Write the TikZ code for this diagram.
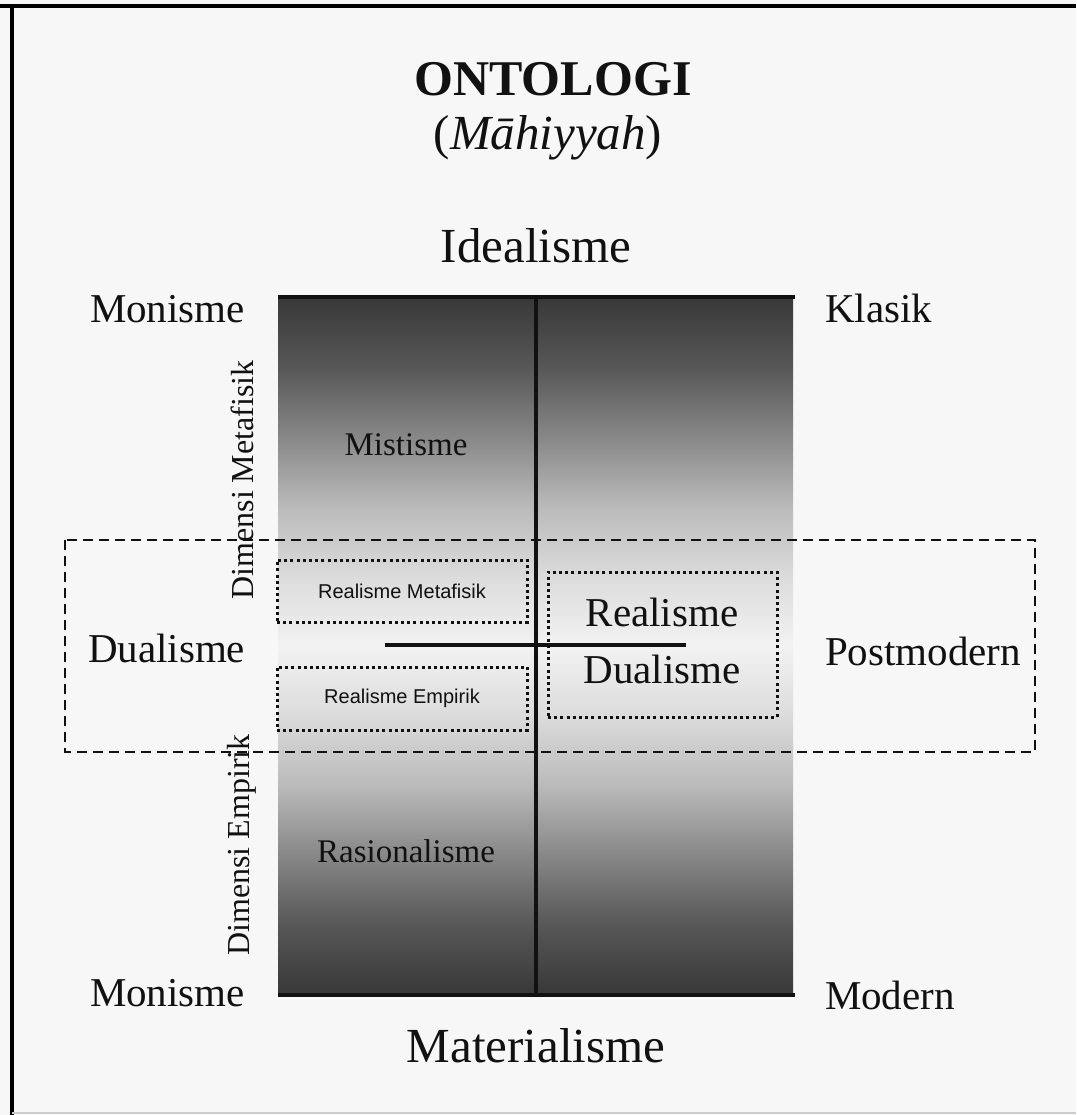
\documentclass[tikz,border=0pt]{standalone}
\usepackage{fontspec}
\setmainfont{Liberation Serif}
\newfontfamily\arialf{Liberation Sans}
\definecolor{pagebg}{RGB}{248,247,247}
\definecolor{inkc}{RGB}{17,17,17}
\definecolor{sc0}{gray}{0.22}
\definecolor{sc1}{gray}{0.34}
\definecolor{sc2}{gray}{0.53}
\definecolor{sc3}{gray}{0.73}
\definecolor{sc4}{gray}{0.86}
\definecolor{sc5}{gray}{0.95}
\pgfdeclareverticalshading{ontoshade}{100bp}{color(0bp)=(sc0); color(25bp)=(sc0); color(30bp)=(sc1); color(35bp)=(sc2); color(40bp)=(sc3); color(45bp)=(sc4); color(50bp)=(sc5); color(55bp)=(sc4); color(60bp)=(sc3); color(65bp)=(sc2); color(70bp)=(sc1); color(75bp)=(sc0); color(100bp)=(sc0)}
\begin{document}
\begin{tikzpicture}[x=1pt,y=-1pt,
  every node/.style={inner sep=0pt, outer sep=0pt, text=inkc},
  big/.style={font=\fontsize{49}{49}\selectfont},
  mid/.style={font=\fontsize{41}{41}\selectfont},
  small/.style={font=\fontsize{33}{33}\selectfont},
  dimlabel/.style={font=\fontsize{32}{32}\selectfont, rotate=90},
  sanslabel/.style={font=\arialf\fontsize{20}{20}\selectfont},
  dotbox/.style={draw=inkc, line width=3pt, dash pattern=on 3pt off 3.2pt},
  dashbox/.style={draw=inkc, line width=2.2pt, dash pattern=on 10pt off 6pt},
  axisline/.style={draw=inkc, line width=3.3pt},
  framel/.style={draw=black, line width=4.5pt}]
\fill[pagebg] (0,0) rectangle (1076,1115);
\useasboundingbox (0,0) rectangle (1076,1115);
% outer frame
\draw[framel] (0,6) -- (1076,6);
\draw[framel] (12,6) -- (12,1115);
\draw[gray!40, line width=1.5pt] (12,1113) -- (1076,1113);
% shaded field
\shade[shading=ontoshade] (278,297) rectangle (793,995);
% dashed band
\draw[dashbox] (65,540) rectangle (1035,752);
% axes
\draw[axisline] (278,297) -- (795,297);
\draw[axisline] (278,995) -- (795,995);
\draw[axisline] (536,297) -- (536,995);
\draw[axisline] (385,645) -- (686,645);
% titles
\node[anchor=base, font=\bfseries\fontsize{50}{50}\selectfont] (title) at (553,96) {ONTOLOGI};
\node[anchor=base, big] (subtitle) at (548,150) {(\textit{Māhiyyah})};
\node[anchor=base, big] (ideal) at (536,262) {Idealisme};
\node[anchor=base, big] (mater) at (536,1062) {Materialisme};
% corner labels
\node[anchor=base west, mid] (montop) at (90,322) {Monisme};
\node[anchor=base west, mid] (klasik) at (825,322) {Klasik};
\node[anchor=base west, mid] (dual) at (88,662) {Dualisme};
\node[anchor=base west, mid] (postm) at (825,665) {Postmodern};
\node[anchor=base west, mid] (monbot) at (90,1006) {Monisme};
\node[anchor=base west, mid] (modern) at (825,1009) {Modern};
% inner labels
\node[anchor=base, small] (mist) at (406,455) {Mistisme};
\node[anchor=base, small] (rasio) at (406,862) {Rasionalisme};
\node[dimlabel] (dimmeta) at (242,480) {Dimensi Metafisik};
\node[dimlabel] (dimemp) at (242,845) {Dimensi Empirik};
% dotted boxes
\node[dotbox, minimum width=250pt, minimum height=62pt, sanslabel] (rmeta) at (402,591) {Realisme Metafisik};
\node[dotbox, minimum width=250pt, minimum height=63pt, sanslabel] (remp) at (402,698.5) {Realisme Empirik};
\node[dotbox, minimum width=229pt, minimum height=145pt] (rdbox) at (662.5,644.5) {};
\node[anchor=base, mid] (rdreal) at (662,626) {Realisme};
\node[anchor=base, mid] (rddual) at (662,683) {Dualisme};
\end{tikzpicture}
\end{document}
